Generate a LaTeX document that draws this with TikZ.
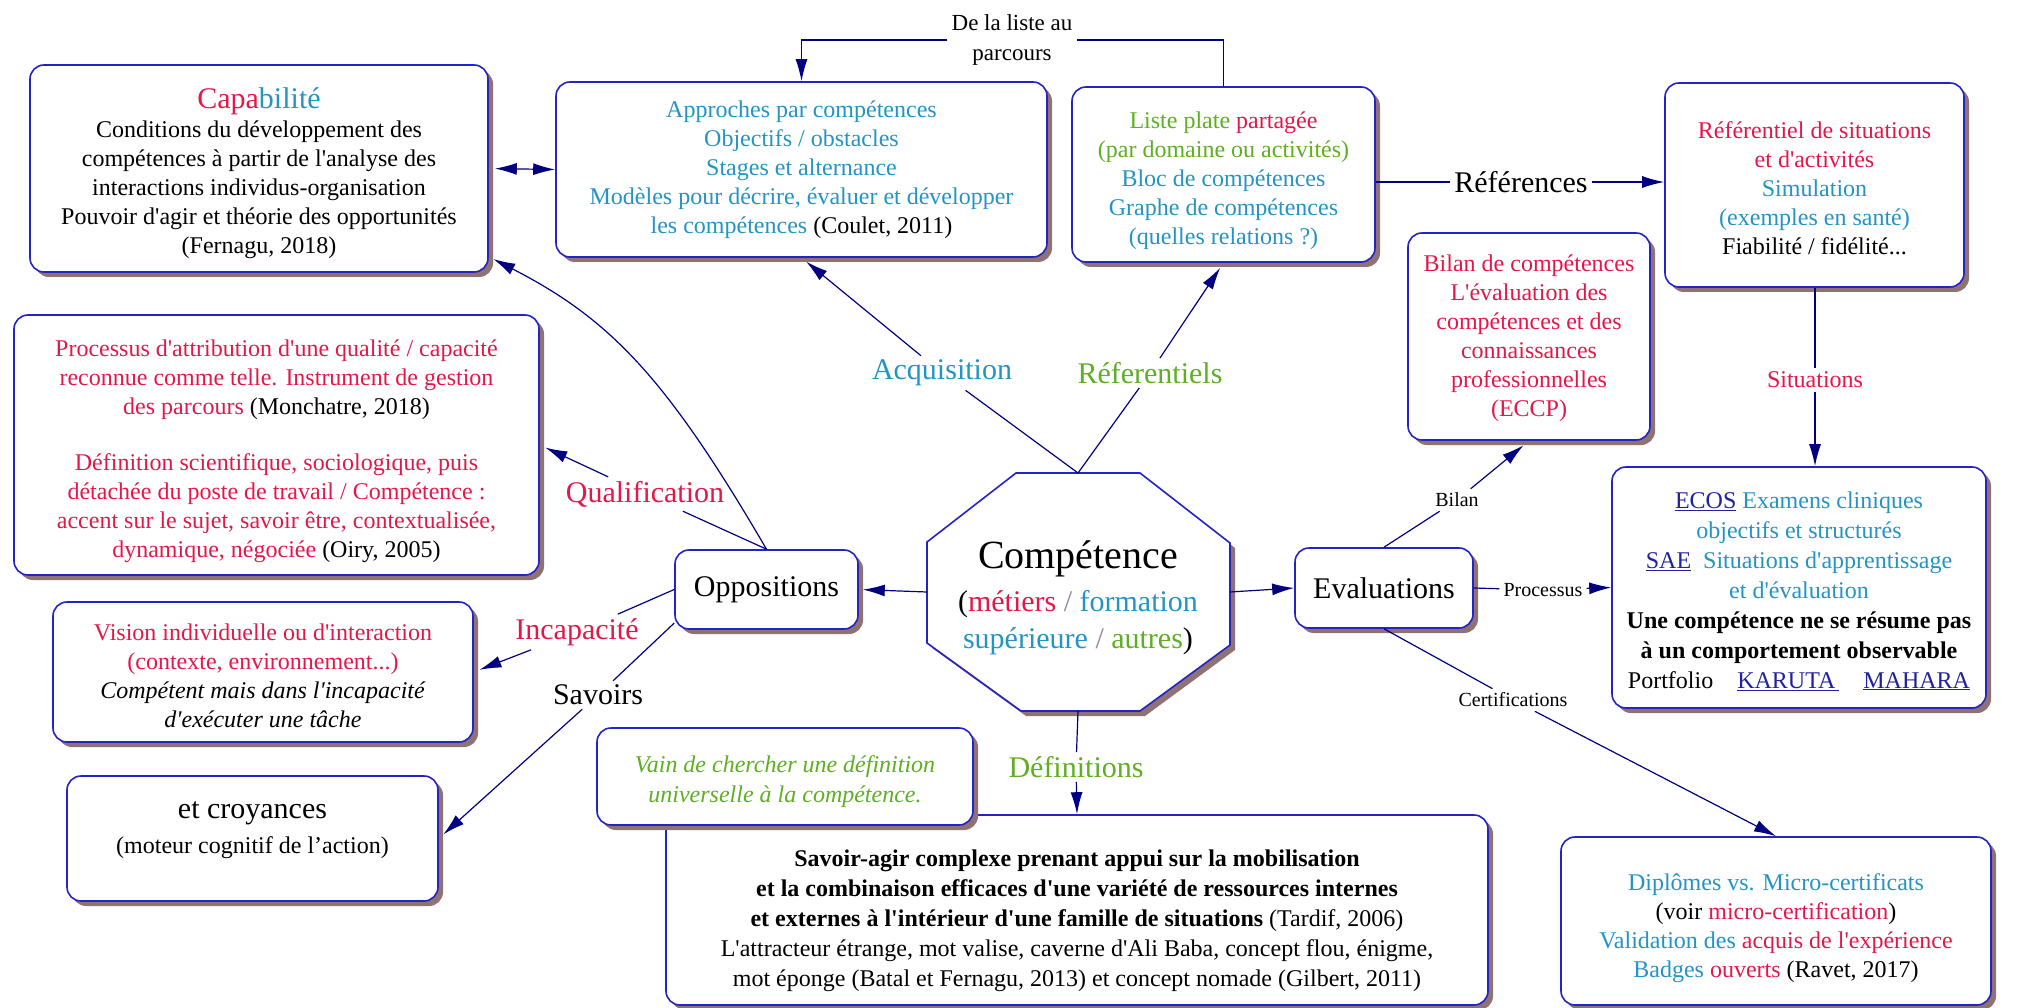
\documentclass[tikz,border=0pt]{standalone}
\usepackage{fontspec}
\setmainfont{Liberation Serif}[Ligatures=TeXOff]
\usetikzlibrary{shadows,arrows.meta}
\definecolor{redc}{HTML}{E2184B}
\definecolor{bluec}{HTML}{2494C4}
\definecolor{greenc}{HTML}{5EAF22}
\definecolor{navyc}{HTML}{000080}
\definecolor{borderc}{HTML}{2323C8}
\definecolor{linkc}{HTML}{2020A0}
\definecolor{shadowc}{HTML}{8F7272}
\definecolor{slashc}{HTML}{8A8AA0}
\tikzset{
  box/.style={draw=borderc, line width=1.6pt, rounded corners=14pt, fill=white,
    general shadow={fill=shadowc, shadow xshift=5pt, shadow yshift=-5pt},
    inner sep=0pt},
  txt/.style={align=center, inner sep=0pt, font=\fontsize{24}{29}\selectfont},
  conn/.style={draw=navyc, line width=1.2pt},
  tip/.tip={Latex[length=22pt,width=12pt]},
  arr/.style={conn, -tip},
  lab/.style={inner sep=4pt, align=center},
  biglab/.style={lab, font=\fontsize{30}{34}\selectfont},
  smalllab/.style={lab, font=\fontsize{20}{24}\selectfont},
}
\begin{document}
\begin{tikzpicture}[x=1pt,y=-1pt]
\useasboundingbox (0,0) rectangle (2018,1008);
\fill[white] (0,0) rectangle (2018,1008);

% central octagon
\fill[shadowc, shift={(5,5)}] (1016,473) -- (1140,473) -- (1230,543) -- (1230,645) -- (1140,711) -- (1021,711) -- (927,643) -- (927,542) -- cycle;
\draw[draw=borderc, line width=1.6pt, fill=white] (1016,473) -- (1140,473) -- (1230,543) -- (1230,645) -- (1140,711) -- (1021,711) -- (927,643) -- (927,542) -- cycle;
\coordinate (octN) at (1078,473);
\coordinate (octS) at (1078,711);
\coordinate (octW) at (927,592);
\coordinate (octE) at (1230,592);
\node[align=center, inner sep=0pt, font=\fontsize{30}{37}\selectfont] (octtext) at (1078,598)
  {{\fontsize{40}{44}\selectfont Compétence}\\[6pt]
   (\textcolor{redc}{métiers} \textcolor{slashc}{/} \textcolor{bluec}{formation}\\
   \textcolor{bluec}{supérieure} \textcolor{slashc}{/} \textcolor{greenc}{autres})};

% boxes
\node[box, minimum width=458pt, minimum height=207pt] (capa) at (259,168.5) {};
\node[txt] (capat) at (259,173.5)
  {{\fontsize{30}{30}\selectfont\textcolor{redc}{Capa}\textcolor{bluec}{bilité}}\\
   Conditions du développement des\\
   compétences à partir de l'analyse des\\
   interactions individus-organisation\\
   Pouvoir d'agir et théorie des opportunités\\
   (Fernagu, 2018)};

\node[box, minimum width=491pt, minimum height=175pt] (appr) at (801.5,169.5) {};
\node[txt] (apprt) at (801.5,169.5)
  {\textcolor{bluec}{Approches par compétences}\\
   \textcolor{bluec}{Objectifs / obstacles}\\
   \textcolor{bluec}{Stages et alternance}\\
   \textcolor{bluec}{Modèles pour décrire, évaluer et développer}\\
   \textcolor{bluec}{les compétences} (Coulet, 2011)};

\node[box, minimum width=303pt, minimum height=175pt] (liste) at (1223.5,174.5) {};
\node[txt] (listet) at (1223.5,180.5)
  {\textcolor{greenc}{Liste plate} \textcolor{redc}{partagée}\\
   \textcolor{greenc}{(par domaine ou activités)}\\
   \textcolor{bluec}{Bloc de compétences}\\
   \textcolor{bluec}{Graphe de compétences}\\
   \textcolor{bluec}{(quelles relations ?)}};

\node[box, minimum width=299pt, minimum height=204pt] (refbox) at (1814.5,185) {};
\node[txt] (refboxt) at (1814.5,188)
  {\textcolor{redc}{Référentiel de situations}\\
   \textcolor{redc}{et d'activités}\\
   \textcolor{bluec}{Simulation}\\
   \textcolor{bluec}{(exemples en santé)}\\
   Fiabilité / fidélité...};

\node[box, minimum width=242pt, minimum height=207pt] (bilanbox) at (1529,336.5) {};
\node[txt] (bilant) at (1529,338)
  {\textcolor{redc}{Bilan de compétences}\\
   \textcolor{redc}{L'évaluation des}\\
   \textcolor{redc}{compétences et des}\\
   \textcolor{redc}{connaissances}\\
   \textcolor{redc}{professionnelles}\\
   \textcolor{redc}{(ECCP)}};

\node[box, minimum width=525pt, minimum height=260pt] (proc) at (276.5,445) {};
\node[txt] (proct) at (276.5,451)
  {\textcolor{redc}{Processus d'attribution d'une qualité / capacité}\\
   \textcolor{redc}{reconnue comme telle. Instrument de gestion}\\
   \textcolor{redc}{des parcours} (Monchatre, 2018)\\[27pt]
   \textcolor{redc}{Définition scientifique, sociologique, puis}\\
   \textcolor{redc}{détachée du poste de travail / Compétence :}\\
   \textcolor{redc}{accent sur le sujet, savoir être, contextualisée,}\\
   \textcolor{redc}{dynamique, négociée} (Oiry, 2005)};

\node[box, minimum width=420pt, minimum height=140pt] (vision) at (263,672) {};
\node[txt] (visiont) at (263,676)
  {\textcolor{redc}{Vision individuelle ou d'interaction}\\
   \textcolor{redc}{(contexte, environnement...)}\\
   \textit{Compétent mais dans l'incapacité}\\
   \textit{d'exécuter une tâche}};

\node[box, minimum width=371pt, minimum height=125pt] (croy) at (252.5,838.5) {};
\node[txt] (croyt) at (252.5,830)
  {{\fontsize{30}{34}\selectfont et croyances}\\[6pt]
   (moteur cognitif de l’action)};

\node[box, minimum width=822pt, minimum height=190pt] (def) at (1077,910) {};
\node[txt, font=\fontsize{24}{30}\selectfont] (deft) at (1077,921)
  {\textbf{Savoir-agir complexe prenant appui sur la mobilisation}\\
   \textbf{et la combinaison efficaces d'une variété de ressources internes}\\
   \textbf{et externes à l'intérieur d'une famille de situations} (Tardif, 2006)\\
   L'attracteur étrange, mot valise, caverne d'Ali Baba, concept flou, énigme,\\
   mot éponge (Batal et Fernagu, 2013) et concept nomade (Gilbert, 2011)};

\node[box, minimum width=376pt, minimum height=97pt] (vain) at (785,776.5) {};
\node[txt, font=\fontsize{24}{30}\selectfont\itshape] (vaint) at (785,781.5)
  {\textcolor{greenc}{Vain de chercher une définition}\\
   \textcolor{greenc}{universelle à la compétence.}};

\node[box, minimum width=374pt, minimum height=241pt] (ecos) at (1799,587.5) {};
\node[txt, font=\fontsize{24}{30}\selectfont] (ecost) at (1799,591)
  {\textcolor{linkc}{\underline{ECOS}} \textcolor{bluec}{Examens cliniques}\\
   \textcolor{bluec}{objectifs et structurés}\\
   \textcolor{linkc}{\underline{SAE}}\ \ \textcolor{bluec}{Situations d'apprentissage}\\
   \textcolor{bluec}{et d'évaluation}\\
   \textbf{Une compétence ne se résume pas}\\
   \textbf{à un comportement observable}\\
   Portfolio\quad \textcolor{linkc}{\underline{KARUTA\,}}\quad \textcolor{linkc}{\underline{MAHARA}}};

\node[box, minimum width=430pt, minimum height=168pt] (dipl) at (1776,921) {};
\node[txt] (diplt) at (1776,928)
  {\textcolor{bluec}{Diplômes vs. Micro-certificats}\\
   (voir \textcolor{redc}{micro-certification})\\
   \textcolor{bluec}{Validation des} \textcolor{redc}{acquis de l'expérience}\\
   \textcolor{bluec}{Badges} \textcolor{redc}{ouverts} (Ravet, 2017)};

\node[box, minimum width=183pt, minimum height=79pt, font=\fontsize{30}{34}\selectfont] (opp) at (766.5,589.5) {Oppositions};
\node[box, minimum width=178pt, minimum height=80pt, font=\fontsize{30}{34}\selectfont] (eval) at (1384,588) {Evaluations};

% labels
\node[lab, font=\fontsize{23}{30}\selectfont] (dl) at (1012,40) {De la liste au\\parcours};
\node[biglab] (reflab) at (1521,182) {Références};
\node[biglab, text=bluec] (acq) at (942,373) {Acquisition};
\node[biglab, text=greenc] (refl) at (1150,373) {Réferentiels};
\node[biglab, text=redc] (qual) at (645,494) {Qualification};
\node[biglab, text=redc] (incap) at (577,632) {Incapacité};
\node[biglab] (sav) at (598,695) {Savoirs};
\node[biglab, text=greenc] (defl) at (1076,767) {Définitions};
\node[smalllab] (bil) at (1457,500) {Bilan};
\node[smalllab] (pro) at (1543,590) {Processus};
\node[smalllab] (cert) at (1513,700) {Certifications};
\node[lab, font=\fontsize{24}{29}\selectfont, text=redc] (sit) at (1815,380) {Situations};

% connectors
\draw[conn] (liste.north) |- (dl.east);
\draw[arr] (dl.west) -| (appr.north);
\draw[conn, tip-tip, shorten <=6pt] (capa.east) -- (appr.west);
\draw[conn] (liste.east |- reflab.west) -- (reflab.west);
\draw[arr] (reflab.east) -- (reflab.east -| refbox.west);
\draw[conn] (refbox.south -| sit) -- (sit);
\draw[arr] (sit) -- (sit |- ecos.north);
\draw[conn] (octN) -- (acq);
\draw[arr, shorten >=6pt] (acq) -- (appr.south);
\draw[conn] (octN) -- (refl);
\draw[arr, shorten >=6pt] (refl) -- (liste.south);
\draw[arr, shorten >=4pt] (octW) -- (opp.east);
\draw[arr] (octE) -- (eval.west);
\draw[conn] (octS) -- (defl);
\draw[arr] (defl) -- (def.north);
\draw[arr, shorten >=5pt] (opp.north) .. controls (666,377) and (610,319) .. (capa.-21);
\draw[conn] (opp.north) -- (qual);
\draw[arr, shorten >=6pt] (qual) -- (proc.east);
\draw[conn] (opp.west) -- (incap);
\draw[arr, shorten >=6pt] (incap) -- (vision.east);
\draw[conn] (opp.200) -- (sav);
\draw[arr, shorten >=6pt] (sav) -- (croy.east);
\draw[conn] (eval.north) -- (bil);
\draw[arr, shorten >=7pt] (bil) -- (bilanbox.south);
\draw[conn] (eval.east) -- (pro);
\draw[arr] (pro) -- (ecos.west);
\draw[conn] (eval.south) -- (cert);
\draw[arr] (cert) -- (dipl.north);
\end{tikzpicture}
\end{document}
